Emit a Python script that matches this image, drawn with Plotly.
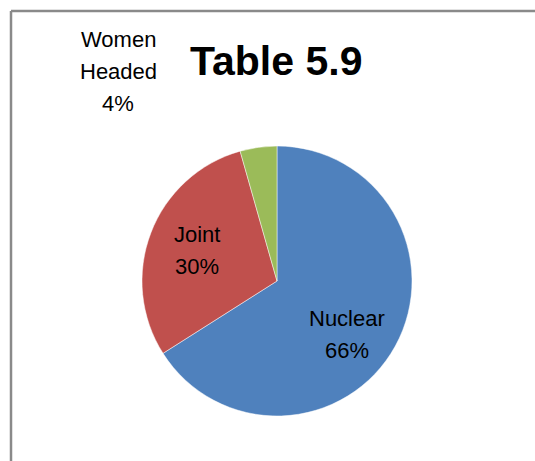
import plotly.graph_objects as go

labels = ["Nuclear", "Joint", "Women Headed"]
values = [66, 29.6, 4.4]
pct_text = ["66%", "30%", "4%"]
colors = ["#4F81BD", "#C0504D", "#9BBB59"]
title_text = "Table 5.9"

W, H = 535, 461
cx, cy, R = 277, 281, 135  # pie centre/radius in pixels (y from top)

fig = go.Figure(go.Pie(
    labels=labels, values=values, sort=False, direction="clockwise", rotation=0,
    marker=dict(colors=colors, line=dict(color="rgba(255,255,255,0.6)", width=0.8)),
    textinfo="none", hoverinfo="label+percent", showlegend=False,
    domain=dict(x=[(cx - R) / W, (cx + R) / W], y=[(H - cy - R) / H, (H - cy + R) / H]),
))

# data-label block centres (pixels), one per slice
label_pos = [(347, 334), (197, 250), (118, 71)]
line_gap = 32
annotations = []
for lab, p, (px, py) in zip(labels, pct_text, label_pos):
    lines = lab.split(" ") + [p]
    n = len(lines)
    for i, ln in enumerate(lines):
        ly = py + (i - (n - 1) / 2) * line_gap
        annotations.append(dict(x=px / W, y=1 - ly / H, xref="paper", yref="paper",
                                text=ln, showarrow=False, xanchor="center", yanchor="middle",
                                font=dict(family="Liberation Sans, Arial", size=22, color="black")))

annotations.append(dict(x=276 / W, y=1 - 61 / H, xref="paper", yref="paper",
                        text="<b>" + title_text + "</b>", showarrow=False,
                        xanchor="center", yanchor="middle",
                        font=dict(family="Liberation Sans, Arial", size=41, color="black")))

bx, by = 11 / W, 1 - 11 / H
border = dict(color="#8A8A8A", width=2.5)
fig.update_layout(
    width=W, height=H, margin=dict(l=0, r=0, t=0, b=0),
    paper_bgcolor="white", plot_bgcolor="white",
    annotations=annotations,
    shapes=[
        dict(type="line", xref="paper", yref="paper", x0=bx, x1=bx, y0=-0.02, y1=by, line=border),
        dict(type="line", xref="paper", yref="paper", x0=bx, x1=1.03, y0=by, y1=by, line=border),
    ],
)

fig.write_html("out.html", config={"displayModeBar": False, "staticPlot": True},
               post_script=("document.documentElement.style.overflow='hidden';"
                            "document.body.style.overflow='hidden';"
                            "document.body.style.margin='0';"))
